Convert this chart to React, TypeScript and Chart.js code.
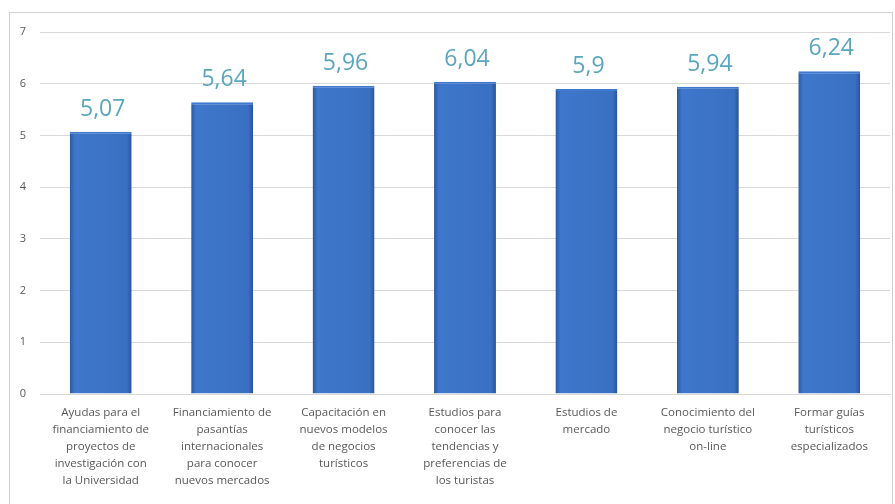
import React, { useEffect, useRef } from "react";
import { Chart, registerables } from "chart.js";

Chart.register(...registerables);

const categories: string[][] = [
  ["Ayudas para el", "financiamiento de", "proyectos de", "investigación con", "la Universidad"],
  ["Financiamiento de", "pasantías", "internacionales", "para conocer", "nuevos mercados"],
  ["Capacitación en", "nuevos modelos", "de negocios", "turísticos"],
  ["Estudios para", "conocer las", "tendencias y", "preferencias de", "los turistas"],
  ["Estudios de", "mercado"],
  ["Conocimiento del", "negocio turístico", "on-line"],
  ["Formar guías", "turísticos", "especializados"],
];
const values: number[] = [5.07, 5.64, 5.96, 6.04, 5.9, 5.94, 6.24];
const valueLabels: string[] = ["5,07", "5,64", "5,96", "6,04", "5,9", "5,94", "6,24"];
const yTicks: number[] = [0, 1, 2, 3, 4, 5, 6, 7];

const FONT = "'Open Sans', 'Noto Sans', sans-serif";

const valueLabelPlugin = {
  id: "valueLabels",
  afterDatasetsDraw(chart: any) {
    const meta = chart.getDatasetMeta(0);
    const ctx = chart.ctx;
    ctx.save();
    ctx.font = `23px ${FONT}`;
    ctx.fillStyle = "#5AA6BE";
    ctx.textAlign = "center";
    ctx.textBaseline = "bottom";
    meta.data.forEach((el: any, i: number) => {
      ctx.fillText(valueLabels[i], el.x + 2, el.y - 11);
    });
    ctx.restore();
  },
};

export default function App() {
  const ref = useRef<HTMLCanvasElement | null>(null);
  useEffect(() => {
    const prevMargin = document.body.style.margin;
    document.body.style.margin = "0";
    if (!ref.current) return;
    const chart = new Chart(ref.current, {
      type: "bar",
      data: {
        labels: categories,
        datasets: [
          {
            data: values,
            backgroundColor: (c: any) => {
              const ch = c.chart;
              const xs = ch.scales && ch.scales.x;
              if (!xs || c.dataIndex === undefined) return "#3A72C4";
              const cx = xs.getPixelForValue(c.dataIndex);
              if (!isFinite(cx)) return "#3A72C4";
              const half = 31;
              const g = ch.ctx.createLinearGradient(cx - half, 0, cx + half, 0);
              g.addColorStop(0, "#2A58A0");
              g.addColorStop(0.08, "#3E77CB");
              g.addColorStop(0.5, "#3C74C7");
              g.addColorStop(0.92, "#3970C2");
              g.addColorStop(1, "#28549A");
              return g;
            },
            borderColor: "#3F7AD0",
            borderWidth: { top: 2, left: 0, right: 0, bottom: 0 } as any,
            barPercentage: 0.51,
            categoryPercentage: 1,
          },
        ],
      },
      options: {
        animation: false,
        responsive: false,
        maintainAspectRatio: false,
        layout: { padding: { left: 0, right: 5, top: 32, bottom: 0 } },
        plugins: { legend: { display: false }, tooltip: { enabled: false } },
        scales: {
          x: {
            grid: { display: false, drawTicks: false },
            border: { display: true, color: "#D9D9D9" },
            ticks: {
              color: "#595959",
              font: { family: FONT, size: 11.5, lineHeight: 1.48 },
              padding: 10,
              maxRotation: 0,
              autoSkip: false,
            },
            afterFit: (s: any) => {
              s.height = 110;
            },
          },
          y: {
            min: 0,
            max: 7,
            afterBuildTicks: (s: any) => {
              s.ticks = yTicks.map((v) => ({ value: v }));
            },
            grid: { color: "#D9D9D9", drawTicks: false },
            border: { display: false },
            ticks: {
              color: "#595959",
              font: { family: FONT, size: 11 },
              padding: 14,
            },
            afterFit: (s: any) => {
              s.width = 40;
            },
          },
        },
      },
      plugins: [valueLabelPlugin],
    });
    return () => {
      chart.destroy();
      document.body.style.margin = prevMargin;
    };
  }, []);
  return (
    <div style={{ position: "relative", width: 895, height: 504, background: "#fff", overflow: "hidden" }}>
      <div
        style={{
          position: "absolute",
          left: 9,
          top: 12,
          width: 884,
          height: 520,
          border: "1px solid #D0D0D0",
          boxSizing: "border-box",
        }}
      />
      <canvas ref={ref} width={895} height={504} style={{ position: "absolute", left: 0, top: 0 }} />
    </div>
  );
}
